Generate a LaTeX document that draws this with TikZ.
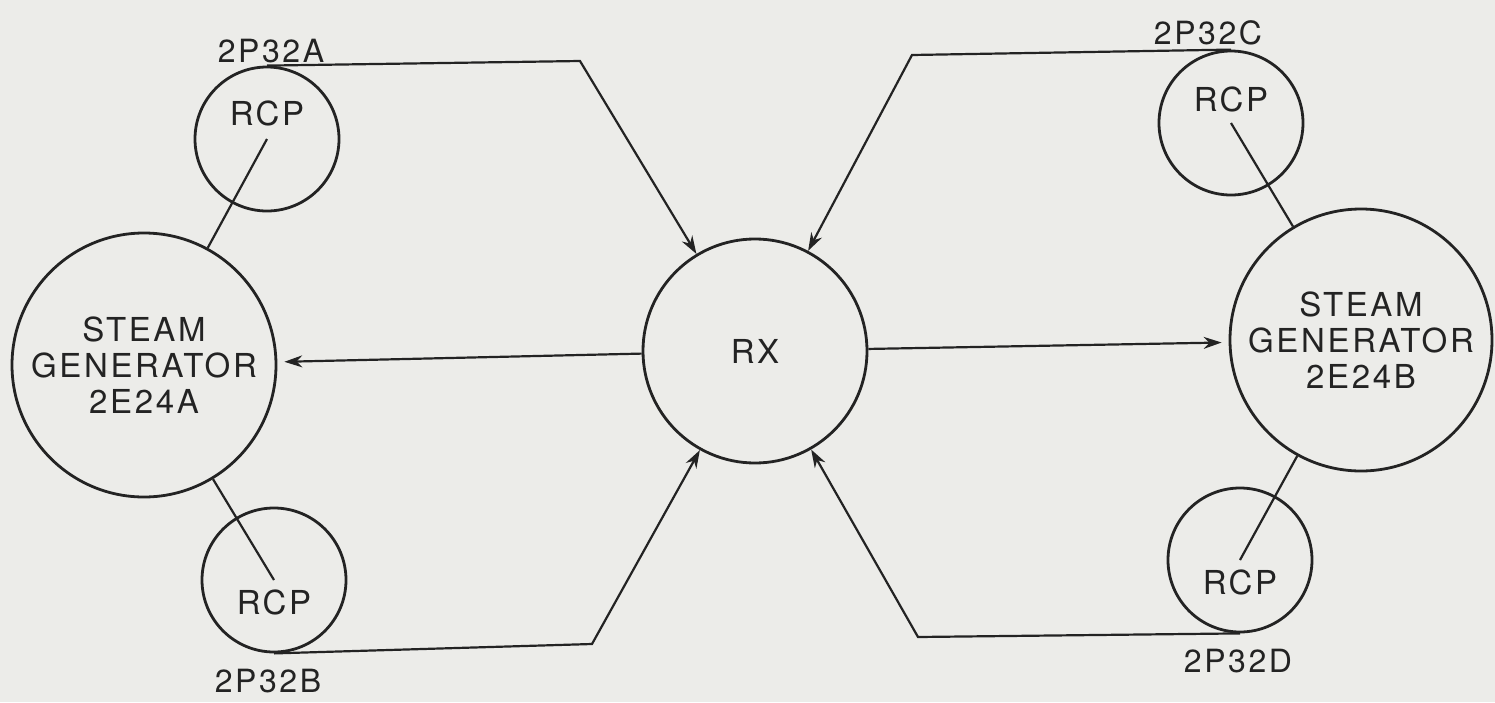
\documentclass[tikz,border=0pt]{standalone}
\usepackage{fontspec}
\setmainfont{TeX Gyre Heros}[LetterSpace=8]
\usetikzlibrary{arrows.meta, positioning}
\definecolor{paper}{RGB}{236,236,233}
\definecolor{ink}{RGB}{35,35,35}

\begin{document}
\begin{tikzpicture}[x=0.5pt, y=-0.5pt,
    vessel/.style={circle, draw=ink, line width=1.4pt, inner sep=0pt, align=center, text=ink,
        font=\fontsize{16.5}{18}\selectfont},
    pump/.style={vessel, minimum size=72pt},
    pipe/.style={draw=ink, line width=1.1pt},
    flow/.style={pipe, -{Stealth[length=9pt, width=6pt]}},
    tag/.style={text=ink, font=\fontsize{16}{18}\selectfont}]
    \fill[paper] (0,0) rectangle (1495,702);
    \useasboundingbox (0,0) rectangle (1495,702);
    % reactor and steam generators
    \node[vessel, minimum size=112pt] (rx) at (755,351) {RX};
    \node[vessel, minimum size=132pt] (sgA) at (144,365) {STEAM\\GENERATOR\\2E24A};
    \node[vessel, minimum size=131pt] (sgB) at (1361,340) {STEAM\\GENERATOR\\2E24B};
    % pumps
    \node[pump, label={[yshift=13pt, text=ink, font=\fontsize{16.5}{18}\selectfont]center:RCP}] (rcpA) at (267,139) {};
    \node[pump, label={[yshift=-11pt, text=ink, font=\fontsize{16.5}{18}\selectfont]center:RCP}] (rcpB) at (274,580) {};
    \node[pump, label={[yshift=12pt, text=ink, font=\fontsize{16.5}{18}\selectfont]center:RCP}] (rcpC) at (1231,123) {};
    \node[pump, label={[yshift=-11pt, text=ink, font=\fontsize{16.5}{18}\selectfont]center:RCP}] (rcpD) at (1240,560) {};
    \node[tag] (tA) at (271,51) {2P32A};
    \node[tag] (tB) at (268,681) {2P32B};
    \node[tag] (tC) at (1208,33) {2P32C};
    \node[tag] (tD) at (1238,661) {2P32D};
    % bends of the cold legs
    \coordinate (kA) at (580,61);
    \coordinate (kB) at (592,644);
    \coordinate (kC) at (912,55);
    \coordinate (kD) at (918,637);
    \draw[flow] (rcpA.north) -- (kA) -- (rx);
    \draw[flow] (rcpB.south) -- (kB) -- (rx);
    \draw[flow] (rcpC.north) -- (kC) -- (rx);
    \draw[flow] (rcpD.south) -- (kD) -- (rx);
    % hot legs
    \draw[flow, shorten >=3.5pt] (rx) -- (sgA);
    \draw[flow, shorten >=3.5pt] (rx) -- (sgB);
    % crossover legs
    \draw[pipe] (rcpA.center) -- (sgA);
    \draw[pipe] (rcpB.center) -- (sgA);
    \draw[pipe] (rcpC.center) -- (sgB);
    \draw[pipe] (rcpD.center) -- (sgB);
\end{tikzpicture}
\end{document}
